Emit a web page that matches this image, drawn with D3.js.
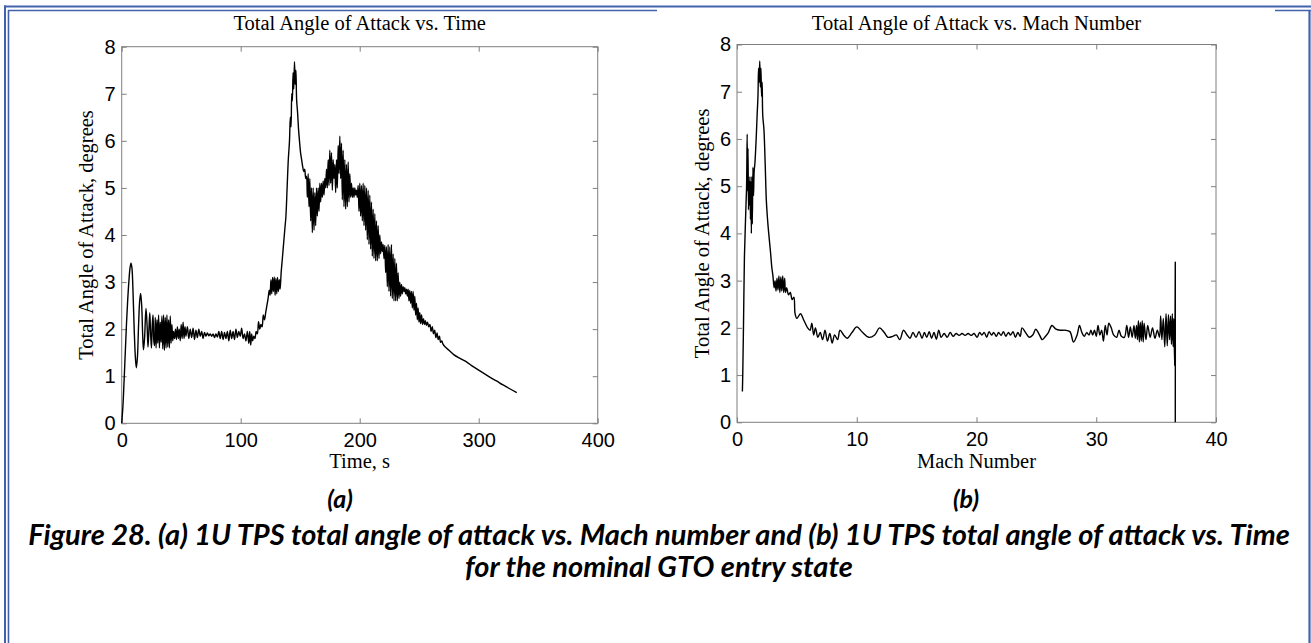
<!DOCTYPE html>
<html>
<head>
<meta charset="utf-8">
<script src="https://cdn.jsdelivr.net/npm/d3@7"></script>
<style>
  html, body { margin: 0; padding: 0; background: #fff; }
  svg { display: block; }
</style>
</head>
<body>
<svg id="fig" width="1311" height="643"></svg>
<script>
// ---- Data: total angle of attack (deg) over the entry trajectory ----
const timeTicks = [0, 100, 200, 300, 400];
const machTicks = [0, 10, 20, 30, 40];
const aoaTicks = [0, 1, 2, 3, 4, 5, 6, 7, 8];

// [time s, total angle of attack deg]
const aoaByTime = [
  [0,0],[1,0.35],[2,0.9],[3,1.5],[4,2.1],[5,2.6],[6,3.0],[7,3.3],[7.8,3.4],[8.6,3.3],[9.5,2.8],[10.5,2.0],
  [11.5,1.4],[12.3,1.18],[13.2,1.4],[14.2,2.1],[15.1,2.6],[15.9,2.76],[16.8,2.5],[17.6,1.9],[18.3,1.56],
  [19.2,1.8],[20.4,2.44],[21.3,2.1],[22.1,1.62],[22.9,2.0],[23.6,2.35],[24.3,1.9],[25,1.6],[25.7,2.1],
  [26.3,2.3],[27,1.75],[27.6,1.65],
  [28.2,2.25],[28.9,1.6],[29.6,2.2],[30.3,1.7],[31,2.3],[31.7,1.6],[32.4,2.15],[33.1,1.72],[33.8,2.28],
  [34.5,1.58],[35.2,2.3],[35.9,1.55],[36.6,2.25],[37.3,1.6],[38,2.3],[38.7,1.62],[39.4,2.2],[40.1,1.6],
  [40.8,2.28],[41.5,1.7],[42.2,2.1],[42.9,1.75],[43.6,1.95],
  [44.4,1.8],[45.2,2.0],[46,1.78],[46.8,2.05],[47.6,1.8],[48.4,2.0],[49.2,1.75],[50,2.1],[50.8,1.8],
  [51.6,2.15],[52.4,1.8],[53.2,2.05],[54,1.85],
  [55.2,2.05],[56.4,1.8],[57.6,2.0],[58.8,1.82],[60,2.02],[61.2,1.78],[62.4,1.98],[63.6,1.82],[64.8,2.0],
  [66,1.85],[67.2,1.95],[68.4,1.8],[69.6,1.93],[70.8,1.85],[72,1.92],[73.2,1.86],[74.4,1.9],[75.6,1.85],
  [76.8,1.9],[78,1.82],[79.2,1.9],[80.4,1.83],[81.6,1.95],[82.8,1.8],[84,1.95],[85.2,1.78],[86.4,1.93],
  [87.6,1.8],[88.8,1.95],[90,1.75],[91.2,1.98],[92.4,1.8],[93.6,1.95],[94.8,1.78],[96,2.0],
  [97.2,1.82],[98.4,1.95],[99.6,1.85],[100.8,2.02],[102,1.8],[103.2,1.9],[104.4,1.75],[105.6,1.95],
  [106.8,1.7],[107.6,1.95],[108.4,1.66],[109.2,1.9],[110,1.75],[111,1.85],[112,1.8],[113,1.95],[114,1.9],
  [115,2.16],[116,2.0],[117,2.1],[118,2.05],[119,2.3],[120,2.2],[121,2.35],[122,2.5],[123,2.65],[124,2.83],
  [124.7,2.72],[125.4,3.05],[126.1,2.75],[126.8,3.1],[127.5,2.8],[128.2,3.11],[128.9,2.72],[129.6,3.08],
  [130.3,2.75],[131,3.1],[131.7,2.8],[132.4,3.05],[133.1,2.85],
  [134,3.2],[135,3.5],[136,3.8],[137,4.1],[138,4.4],[139,5.0],[140,5.6],[141,6.0],[141.7,6.5],[142.3,6.3],
  [142.9,7.0],[143.4,6.85],[144,7.45],[144.6,7.1],[145.2,7.68],[145.8,7.2],[146.4,7.5],[147,6.87],
  [147.8,6.6],[148.6,6.25],[149.4,6.0],[150.3,5.75],[151.2,5.6],[152.1,5.45],[153,5.35],[153.8,5.4],[154.6,5.2],
  [155.3,5.25],[156,4.8],[156.7,5.3],[157.4,4.6],[158.1,5.2],[158.8,4.3],[159.5,5.0],[160.2,4.05],[160.9,5.0],
  [161.6,4.1],[162.3,4.9],[163,4.2],[163.7,5.0],[164.4,4.4],[165.1,5.0],[165.8,4.5],[166.5,5.1],[167.2,4.7],
  [167.9,5.1],[168.6,4.8],[169.3,5.15],[170,4.85],[170.7,5.2],[171.4,5.0],[172.1,5.4],[172.8,5.0],[173.5,5.6],
  [174.2,5.05],[174.9,5.8],[175.6,5.1],[176.3,5.75],[177,4.95],[177.7,5.6],[178.4,5.2],[179.1,5.5],[179.8,4.9],
  [180.5,5.6],[181.2,5.0],[181.9,5.9],[182.6,5.3],[183.3,6.1],[184,5.2],[184.7,5.95],[185.4,4.75],[186.1,5.8],
  [186.8,4.6],[187.5,5.6],[188.2,4.55],[188.9,5.5],[189.6,4.6],[190.3,5.55],[191,4.7],[191.7,5.3],[192.4,4.8],
  [193.1,5.1],[193.8,4.8],[194.5,5.0],[195.2,4.8],[195.9,5.0],[196.6,4.85],[197.3,4.95],[198,4.8],[198.7,5.05],
  [199.4,4.5],[200.1,5.1],[200.8,4.4],[201.5,5.05],[202.2,4.3],[202.9,5.1],[203.6,4.2],[204.3,5.05],[205,4.1],
  [205.7,5.0],[206.4,3.9],[207.1,4.95],[207.8,3.8],[208.5,4.85],[209.2,3.7],[209.9,4.7],[210.6,3.55],[211.3,4.55],
  [212,3.5],[212.7,4.45],[213.4,3.45],[214.1,4.3],[214.8,3.45],[215.5,4.2],[216.2,3.5],[216.9,4.0],[217.6,3.6],
  [218.3,3.85],[219,3.65],[219.7,3.8],[220.4,3.5],[221.1,3.78],[221.8,3.2],[222.5,3.75],[223.2,2.9],[223.9,3.8],
  [224.6,2.8],[225.3,3.75],[226,2.7],[226.7,3.8],[227.4,2.65],[228.1,3.6],[228.8,2.6],[229.5,3.5],[230.2,2.6],
  [230.9,3.4],[231.6,2.6],[232.3,3.2],[233,2.65],[233.7,3.0],[234.4,2.7],[235.1,2.95],[235.8,2.75],[236.5,2.9],
  [237.2,2.8],[237.9,2.88],[238.6,2.75],[239.3,2.85],[240,2.7],[240.7,2.85],[241.4,2.6],[242.1,2.82],[242.8,2.55],
  [243.5,2.8],[244.2,2.45],[244.9,2.8],[245.6,2.4],[246.3,2.7],[247,2.3],[247.7,2.55],[248.4,2.2],[249.1,2.45],
  [249.8,2.15],[250.5,2.35],[251.2,2.12],[252,2.3],[252.8,2.1],[253.6,2.22],[254.4,2.1],[255.2,2.18],[256,2.08],
  [257,2.15],[258,2.05],[259,2.1],[260,1.95],[261,2.05],[262,1.9],[263,1.98],[264,1.82],[265,1.92],[266,1.78],
  [267,1.85],[268,1.72],[269,1.75],[270,1.68],[272,1.62],[275,1.55],[279,1.46],[285,1.37],[290,1.3],[295,1.21],
  [300,1.13],[305,1.05],[310,0.97],[315,0.9],[320,0.82],[325,0.75],[332,0.65]
];

// [Mach number, total angle of attack deg], in flight order (Mach decreasing)
const aoaByMach = [
  [36.6,0],[36.6,3.39],[36.55,1.2],[36.48,2.2],[36.42,1.6],[36.35,2.3],[36.28,1.65],[36.2,2.25],[36.12,1.75],
  [36.03,2.28],[35.93,1.62],[35.83,2.3],[35.72,1.6],[35.6,2.2],[35.48,1.75],[35.38,2.25],[35.28,1.8],[35.1,1.95],
  [34.9,1.78],[34.7,2.0],[34.5,1.8],[34.3,2.05],[34.15,1.75],[34.0,2.1],[33.92,1.7],[33.84,2.15],[33.76,1.72],
  [33.68,2.12],[33.6,1.7],[33.52,2.15],[33.44,1.75],[33.36,2.05],[33.26,1.78],[33.15,2.05],[33.0,1.8],
  [32.85,2.02],[32.7,1.8],[32.55,2.05],[32.35,1.8],[32.1,1.82],[31.9,1.95],[31.7,1.8],[31.45,1.85],[31.25,2.0],
  [31.05,2.1],[30.9,1.85],[30.75,2.05],[30.6,1.72],[30.45,1.95],[30.3,1.85],[30.15,2.05],[30.0,1.82],[29.85,1.95],
  [29.7,1.85],[29.55,1.95],[29.4,1.85],[29.2,1.9],[29.0,1.82],[28.8,1.9],[28.6,2.05],[28.4,1.85],[28.1,1.7],
  [27.8,1.92],[27.4,1.95],[27.0,1.95],[26.6,1.98],[26.3,2.05],[26.0,1.9],[25.7,1.8],[25.5,1.75],[25.2,1.88],
  [24.95,1.97],[24.7,1.85],[24.4,1.8],[24.1,1.9],[23.8,2.0],[23.65,1.82],[23.45,1.9],[23.25,1.8],[23.05,1.92],
  [22.85,1.85],[22.65,1.9],[22.45,1.82],[22.25,1.92],[22.05,1.84],[21.85,1.9],[21.65,1.82],[21.45,1.9],
  [21.25,1.85],[21.05,1.92],[20.85,1.8],[20.65,1.9],[20.45,1.85],[20.25,1.9],[20.05,1.8],[19.8,1.88],
  [19.55,1.84],[19.3,1.88],[19.05,1.84],[18.8,1.88],[18.55,1.84],[18.3,1.88],[18.05,1.82],[17.8,1.9],
  [17.55,1.8],[17.3,1.88],[17.05,1.8],[16.85,1.95],[16.65,1.76],[16.45,1.9],[16.25,1.78],[16.05,1.92],
  [15.85,1.8],[15.65,1.9],[15.45,1.78],[15.2,1.92],[14.95,1.8],[14.7,1.9],[14.45,1.78],[14.2,1.85],[13.9,1.95],
  [13.6,1.75],[13.3,1.85],[13.0,1.82],[12.6,1.8],[12.3,1.9],[11.9,2.0],[11.5,1.85],[11.0,1.8],[10.5,1.9],
  [10.0,2.02],[9.6,1.9],[9.2,1.78],[8.9,1.85],[8.6,1.95],[8.4,1.75],[8.15,1.85],[7.95,1.68],[7.75,1.88],
  [7.55,1.72],[7.35,1.95],[7.15,1.75],[6.95,1.9],[6.75,1.8],[6.55,2.0],[6.4,1.85],[6.25,2.1],[6.1,1.95],
  [5.9,2.0],[5.6,2.15],[5.3,2.3],[5.0,2.2],[4.85,2.3],[4.75,2.65],[4.6,2.6],[4.45,2.75],[4.3,2.7],[4.15,2.85],
  [4.05,2.75],[3.98,3.05],[3.9,2.75],[3.82,3.1],[3.74,2.78],[3.66,3.08],[3.58,2.75],[3.5,3.1],[3.42,2.8],
  [3.34,3.05],[3.26,2.78],[3.18,3.0],[3.1,2.85],[3.0,3.1],[2.9,3.3],[2.8,3.6],[2.65,4.0],[2.55,4.3],[2.45,4.7],
  [2.35,5.5],[2.25,6.2],[2.15,6.5],[2.1,7.2],[2.05,6.9],[2.0,7.5],[1.95,7.1],[1.9,7.65],[1.85,7.2],[1.8,7.5],
  [1.75,6.9],[1.68,6.5],[1.6,6.0],[1.5,5.5],[1.43,5.3],[1.38,4.8],[1.33,5.4],[1.28,4.2],[1.24,5.2],[1.2,4.0],
  [1.16,5.1],[1.12,4.3],[1.08,5.2],[1.04,4.6],[1.0,5.1],[0.96,4.5],[0.92,5.8],[0.88,4.9],[0.85,6.1],[0.8,5.0],
  [0.75,4.6],[0.7,4.2],[0.62,3.5],[0.55,2.2],[0.48,1.0],[0.45,0.65]
];

const captionLines = [
  "Figure 28. (a) 1U TPS total angle of attack vs. Mach number and (b) 1U TPS total angle of attack vs. Time",
  "for the nominal GTO entry state"
];

// ---- Layout ----
const svg = d3.select("#fig");
const frameBlue = "#4262ad";
const axisGray = "#7f7f7f";

const panels = [
  { data: aoaByTime, xDomain: [0, 400], xTicks: timeTicks,
    left: 121.7, right: 597.7, top: 46.7, bottom: 423.3,
    title: "Total Angle of Attack vs. Time", xLabel: "Time, s", yLabelX: 93, tag: "(a)", tagX: 340 },
  { data: aoaByMach, xDomain: [0, 40], xTicks: machTicks,
    left: 737, right: 1216, top: 44.5, bottom: 422.3,
    title: "Total Angle of Attack vs. Mach Number", xLabel: "Mach Number", yLabelX: 708.5, tag: "(b)", tagX: 966 }
];

// page frame (double rule)
const frame = svg.append("g").attr("fill", "none").attr("stroke", frameBlue);
frame.append("line").attr("x1", 5).attr("x2", 5).attr("y1", 5.5).attr("y2", 643).attr("stroke-width", 2);
frame.append("line").attr("x1", 4).attr("x2", 1311).attr("y1", 6.5).attr("y2", 6.5).attr("stroke-width", 2);
frame.append("line").attr("x1", 8.5).attr("x2", 8.5).attr("y1", 10).attr("y2", 643).attr("stroke-width", 1.6);
frame.append("line").attr("x1", 8).attr("x2", 657).attr("y1", 10.5).attr("y2", 10.5).attr("stroke-width", 1.6);
frame.append("line").attr("x1", 1275).attr("x2", 1311).attr("y1", 10.5).attr("y2", 10.5).attr("stroke-width", 1.6);
frame.append("line").attr("x1", 1309.5).attr("x2", 1309.5).attr("y1", 10).attr("y2", 643).attr("stroke-width", 2.2);

panels.forEach(p => {
  const x = d3.scaleLinear().domain(p.xDomain).range([p.left, p.right]);
  const y = d3.scaleLinear().domain([0, 8]).range([p.bottom, p.top]);
  const g = svg.append("g");

  // inward ticks on all four sides
  const styleAxis = sel => {
    sel.select(".domain").remove();
    sel.selectAll(".tick line").attr("stroke", axisGray).attr("stroke-width", 1);
    sel.selectAll(".tick text").attr("fill", "#000")
      .style("font-family", "'Liberation Sans', Arial, sans-serif").style("font-size", "20px");
  };
  g.append("g").attr("transform", `translate(0,${p.bottom})`)
    .call(d3.axisBottom(x).tickValues(p.xTicks).tickSize(-5).tickPadding(10).tickFormat(d3.format("d")))
    .call(styleAxis);
  g.append("g").attr("transform", `translate(0,${p.top})`)
    .call(d3.axisTop(x).tickValues(p.xTicks).tickSize(-5).tickFormat(""))
    .call(styleAxis);
  g.append("g").attr("transform", `translate(${p.left},0)`)
    .call(d3.axisLeft(y).tickValues(aoaTicks).tickSize(-5).tickPadding(6).tickFormat(d3.format("d")))
    .call(styleAxis);
  g.append("g").attr("transform", `translate(${p.right},0)`)
    .call(d3.axisRight(y).tickValues(aoaTicks).tickSize(-5).tickFormat(""))
    .call(styleAxis);

  // box
  g.append("rect")
    .attr("x", p.left).attr("y", p.top)
    .attr("width", p.right - p.left).attr("height", p.bottom - p.top)
    .attr("fill", "none").attr("stroke", axisGray).attr("stroke-width", 1);

  // trace
  const line = d3.line().curve(d3.curveCatmullRom.alpha(0.5))
    .x(d => x(d[0])).y(d => y(d[1]));
  g.append("path").datum(p.data)
    .attr("d", line)
    .attr("fill", "none").attr("stroke", "#000")
    .attr("stroke-width", 1.4).attr("stroke-linejoin", "round");

  const serif = "'Liberation Serif', 'Times New Roman', serif";
  const cx = (p.left + p.right) / 2;
  const cy = (p.top + p.bottom) / 2;
  g.append("text").attr("x", cx).attr("y", 29.5).attr("text-anchor", "middle")
    .style("font-family", serif).style("font-size", "20.5px").text(p.title);
  g.append("text").attr("x", cx).attr("y", 468).attr("text-anchor", "middle")
    .style("font-family", serif).style("font-size", "20.5px").text(p.xLabel);
  g.append("text").attr("transform", `translate(${p.yLabelX},${cy}) rotate(-90)`)
    .attr("text-anchor", "middle")
    .style("font-family", serif).style("font-size", "20.5px").text("Total Angle of Attack, degrees");

  // sub-figure tag
  svg.append("text").attr("x", p.tagX).attr("y", 508).attr("text-anchor", "middle")
    .style("font-family", "Lato, 'Open Sans', sans-serif").style("font-weight", "bold")
    .style("font-style", "italic").style("font-size", "25px").text(p.tag);
});

// caption, sized so the first line spans the text block
const cap = svg.append("g")
  .style("font-family", "Lato, 'Open Sans', sans-serif").style("font-weight", "bold")
  .style("font-style", "italic");
const capText = cap.selectAll("text").data(captionLines).join("text")
  .attr("x", 659).attr("y", (d, i) => 545 + i * 32)
  .attr("text-anchor", "middle").style("font-size", "22px").text(d => d);
const w = capText.nodes()[0].getComputedTextLength();
const fs = 22 * 1262 / w;
capText.style("font-size", fs + "px");
</script>
</body>
</html>
